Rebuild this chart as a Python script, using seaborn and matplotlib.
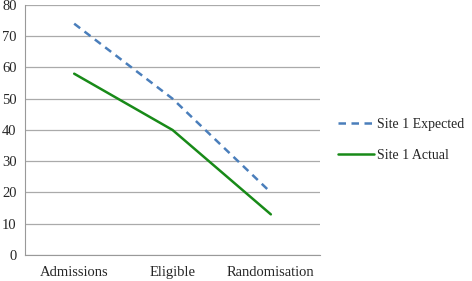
import pandas as pd
import matplotlib
matplotlib.use("Agg")
import matplotlib.pyplot as plt
import seaborn as sns

stages = ["Admissions", "Eligible", "Randomisation"]
expected = [74, 50, 20]
actual = [58, 40, 13]
series_names = ["Site 1 Expected", "Site 1 Actual"]

df = pd.DataFrame({
    "stage": stages * 2,
    "pos": list(range(len(stages))) * 2,
    "value": expected + actual,
    "series": [series_names[0]] * 3 + [series_names[1]] * 3,
})

sns.set_style("white")
plt.rcParams["font.family"] = ["Liberation Serif", "DejaVu Serif"]

fig = plt.figure(figsize=(4.72, 2.81), dpi=100)
ax = fig.add_axes([0.053, 0.0925, 0.625, 0.89])

palette = {series_names[0]: "#4a7ebb", series_names[1]: "#188a18"}
dashes = {series_names[0]: (3, 2.2), series_names[1]: ""}
sns.lineplot(data=df, x="pos", y="value", hue="series", style="series",
             palette=palette, dashes=dashes, linewidth=1.8, ax=ax)

ax.set_xlim(-0.5, 2.5)
ax.set_ylim(0, 80)
ax.set_yticks(range(0, 81, 10))
ax.set_xticks([0, 1, 2])
ax.set_xticklabels(stages)
ax.set_xticks([-0.5, 0.5, 1.5, 2.5], minor=True)
ax.tick_params(axis="x", which="major", length=0, labelsize=10.5, pad=8)
ax.tick_params(axis="x", which="minor", length=4, color="#999999", direction="out")
ax.tick_params(axis="y", length=4, color="#999999", labelsize=10.5, pad=2)
ax.grid(axis="y", color="#aaaaaa", linewidth=0.9)
for s in ["top", "right"]:
    ax.spines[s].set_visible(False)
for s in ["left", "bottom"]:
    ax.spines[s].set_color("#999999")
ax.set_xlabel("")
ax.set_ylabel("")

leg = ax.legend(loc="center left", bbox_to_anchor=(1.06, 0.46), frameon=False,
                fontsize=10, handlelength=2.6, labelspacing=1.3, handletextpad=0.2,
                borderpad=0, borderaxespad=0)

fig.savefig("out.png", dpi=100)
